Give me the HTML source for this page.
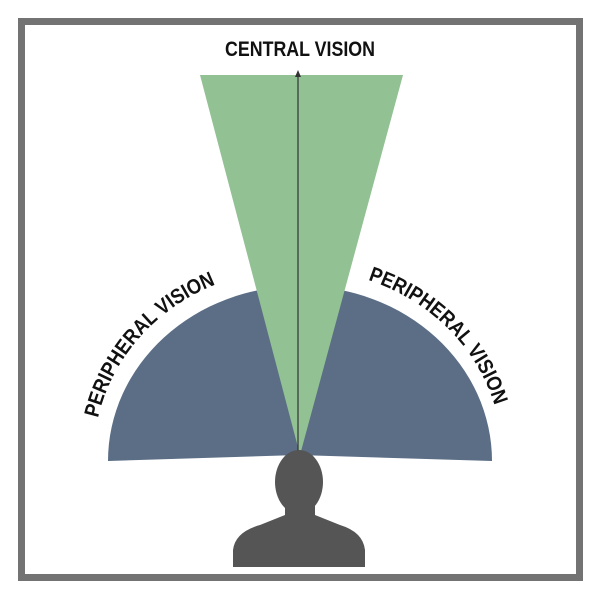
<!DOCTYPE html>
<html><head><style>
html,body{margin:0;padding:0;background:#fff;}
svg{display:block;}
text{font-family:"Liberation Sans",sans-serif;font-weight:bold;fill:#111;}
</style></head><body>
<svg width="600" height="600" viewBox="0 0 600 600">
<rect x="21.5" y="21.5" width="558" height="556" fill="#fff" stroke="#737373" stroke-width="7"/>
<text x="300" y="56" font-size="21" text-anchor="middle" textLength="150" lengthAdjust="spacingAndGlyphs">CENTRAL VISION</text>
<path d="M298,455 L108,461 A192,175 0 0,1 492,461 Z" fill="#5b6e86"/>
<path d="M200,75 L403,75 L300,455 Z" fill="#92c193"/>
<line x1="298" y1="455" x2="298" y2="74" stroke="#333" stroke-width="1.2"/>
<path d="M295,77 L298,70 L301,77 Z" fill="#333"/>
<defs>
<path id="lp" d="M98,418 A200,188 0 0,1 228,280"/>
<path id="rp" d="M368,280 A200,188 0 0,1 498,418"/>
</defs>
<text font-size="21"><textPath href="#lp" textLength="185" lengthAdjust="spacingAndGlyphs">PERIPHERAL VISION</textPath></text>
<text font-size="21"><textPath href="#rp" textLength="185" lengthAdjust="spacingAndGlyphs">PERIPHERAL VISION</textPath></text>
<g fill="#555">
<ellipse cx="299" cy="482" rx="24" ry="32"/>
<rect x="285" y="500" width="30" height="30"/>
<path d="M233,567 L233,550 Q235,532 260,525 L285,515 L315,515 L340,525 Q363,532 365,550 L365,567 Z"/>
</g>
</svg>
</body></html>
